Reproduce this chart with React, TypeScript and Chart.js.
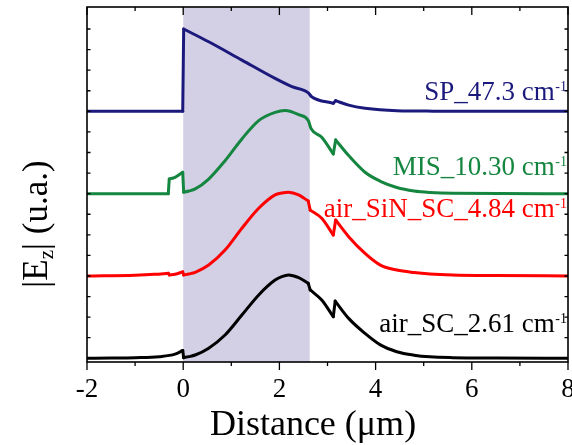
import { useEffect, useRef } from 'react';
import { Chart, registerables } from 'chart.js';

Chart.register(...registerables);

// ---- axis data ----
const xMin = -2;
const xMax = 8;
const yMin = -0.18;
const yMax = 17.07;
const xTickValues = [-2, -1, 0, 1, 2, 3, 4, 5, 6, 7, 8];
const xTickLabels = ['-2', '', '0', '', '2', '', '4', '', '6', '', '8'];
const yTickValues = [0, 1, 2, 3, 4, 5, 6, 7, 8, 9, 10, 11, 12, 13, 14, 15, 16];
const shadeStart = 0;
const shadeEnd = 2.63;
const xTitle = 'Distance (μm)';

// ---- series data (values relative to each curve's baseline) ----
const seriesNames = ['air_SC_2.61 cm', 'air_SiN_SC_4.84 cm', 'MIS_10.30 cm', 'SP_47.3 cm'];
const seriesBaselines = [0, 4, 8, 12];

const airScX = [-2, -1.5, -1, -0.5, -0.17, -0.01, 0.01, 0.12, 0.25, 0.53, 0.87, 1.22, 1.57, 1.91, 2.05, 2.19, 2.4, 2.6, 2.64, 2.88, 3.12, 3.16, 3.44, 3.78, 4.1, 4.44, 4.8, 5.13, 5.6, 6.5, 8];
const airScY = [0, 0.01, 0.03, 0.08, 0.2, 0.38, 0.03, 0.08, 0.16, 0.49, 1.13, 2.1, 3.08, 3.8, 3.97, 4.05, 3.92, 3.64, 3.32, 2.83, 2.02, 2.78, 1.94, 1.21, 0.65, 0.32, 0.15, 0.07, 0.03, 0.01, 0];

const airSinX = [-2, -1, -0.6, -0.31, -0.29, -0.17, -0.01, 0.01, 0.12, 0.25, 0.53, 0.87, 1.22, 1.57, 1.91, 2.05, 2.19, 2.4, 2.6, 2.64, 2.88, 3.12, 3.17, 3.44, 3.78, 4.1, 4.44, 4.8, 5.13, 5.6, 6.5, 8];
const airSinY = [0, 0.04, 0.08, 0.13, 0.05, 0.08, 0.2, 0.05, 0.1, 0.18, 0.53, 1.26, 2.32, 3.29, 3.94, 4.03, 4.07, 3.94, 3.64, 3.2, 2.8, 1.99, 2.72, 1.91, 1.1, 0.53, 0.29, 0.17, 0.1, 0.05, 0.02, 0];

const misX = [-2, -0.31, -0.29, -0.17, -0.01, 0.01, 0.12, 0.25, 0.53, 0.87, 1.22, 1.57, 1.91, 2.12, 2.4, 2.6, 2.66, 2.88, 3.12, 3.17, 3.44, 3.78, 4.1, 4.44, 4.8, 5.13, 5.6, 8];
const misY = [0, 0, 0.71, 0.79, 1.04, 0.07, 0.13, 0.23, 0.71, 1.6, 2.66, 3.55, 3.95, 4.04, 3.84, 3.55, 3.15, 2.74, 1.93, 2.61, 1.85, 1.04, 0.6, 0.3, 0.13, 0.06, 0.02, 0];

const spX = [-2, -0.01, 0.01, 0.53, 1.22, 1.91, 2.26, 2.6, 2.67, 3.12, 3.17, 3.44, 3.78, 4.44, 5.2, 8];
const spY = [0, 0, 4.0, 3.38, 2.49, 1.6, 1.2, 0.9, 0.71, 0.39, 0.52, 0.3, 0.15, 0.03, 0.01, 0];

const seriesX = [airScX, airSinX, misX, spX];
const seriesY = [airScY, airSinY, misY, spY];

// ---- styles ----
const colors = ['#000000', '#ff0000', '#15863f', '#1b1a7c'];
const shadeColor = '#d3d0e6';
const serif = "'Liberation Serif', 'Times New Roman', serif";
const jumpGap = 0.06;
const labelPos = [
  { x: 567, y: 332 },
  { x: 567, y: 217 },
  { x: 567, y: 175 },
  { x: 567, y: 100 },
];

const decorPlugin = {
  id: 'decor',
  beforeDatasetsDraw(chart: any) {
    const { ctx, chartArea, scales } = chart;
    const x0 = scales.x.getPixelForValue(shadeStart);
    const x1 = scales.x.getPixelForValue(shadeEnd);
    ctx.save();
    ctx.fillStyle = shadeColor;
    ctx.fillRect(x0, chartArea.top, x1 - x0, chartArea.bottom - chartArea.top);
    ctx.restore();
  },
  afterDraw(chart: any) {
    const { ctx, chartArea, scales } = chart;
    const { left, right, top, bottom } = chartArea;
    ctx.save();
    ctx.strokeStyle = '#000';
    ctx.lineWidth = 1.6;
    ctx.strokeRect(left, top, right - left, bottom - top);
    ctx.lineWidth = 1.3;
    ctx.beginPath();
    xTickValues.forEach((v, i) => {
      const px = scales.x.getPixelForValue(v);
      const len = xTickLabels[i] ? 8 : 4;
      ctx.moveTo(px, bottom);
      ctx.lineTo(px, bottom + len);
      ctx.moveTo(px, top);
      ctx.lineTo(px, top + len);
    });
    yTickValues.forEach((v) => {
      const py = scales.y.getPixelForValue(v);
      ctx.moveTo(left, py);
      ctx.lineTo(left + 3.5, py);
      ctx.moveTo(right, py);
      ctx.lineTo(right - 3.5, py);
    });
    ctx.stroke();

    // x tick labels
    ctx.fillStyle = '#000';
    ctx.font = `27px ${serif}`;
    ctx.textAlign = 'center';
    ctx.textBaseline = 'alphabetic';
    xTickValues.forEach((v, i) => {
      if (!xTickLabels[i]) return;
      const px = scales.x.getPixelForValue(v);
      ctx.fillText(xTickLabels[i], px, 397);
    });

    // x title
    ctx.font = `36px ${serif}`;
    ctx.fillText(xTitle, 313, 435);

    // y title |Ez| (u.a.)
    ctx.save();
    ctx.translate(47, 224);
    ctx.rotate(-Math.PI / 2);
    ctx.textAlign = 'left';
    const big = `35px ${serif}`;
    const small = `21px ${serif}`;
    const partA = '|E';
    const partB = 'z';
    const partC = '| (u.a.)';
    ctx.font = big;
    const wA = ctx.measureText(partA).width;
    const wC = ctx.measureText(partC).width;
    ctx.font = small;
    const wB = ctx.measureText(partB).width;
    let cx = -(wA + wB + wC) / 2;
    ctx.font = big;
    ctx.fillText(partA, cx, 0);
    cx += wA;
    ctx.font = small;
    ctx.fillText(partB, cx, 6);
    cx += wB;
    ctx.font = big;
    ctx.fillText(partC, cx, 0);
    ctx.restore();

    // series labels with superscript
    seriesNames.forEach((name, i) => {
      const pos = labelPos[i];
      ctx.fillStyle = colors[i];
      ctx.font = `14px ${serif}`;
      ctx.textAlign = 'left';
      const sup = '-1';
      const wSup = ctx.measureText(sup).width;
      const supX = pos.x - wSup;
      ctx.fillText(sup, supX, pos.y - 9);
      ctx.font = `27px ${serif}`;
      ctx.textAlign = 'right';
      ctx.fillText(name, supX - 0.5, pos.y);
    });
    ctx.restore();
  },
};

// split a series into smooth pieces and straight jump pieces
function buildPieces(xs: number[], ys: number[], base: number) {
  const pts = xs.map((x, j) => ({ x, y: ys[j] + base }));
  const smooth: { x: number; y: number }[][] = [];
  const jumps: { x: number; y: number }[][] = [];
  let cur: { x: number; y: number }[] = [pts[0]];
  for (let j = 1; j < pts.length; j++) {
    if (pts[j].x - pts[j - 1].x < jumpGap) {
      smooth.push(cur);
      jumps.push([pts[j - 1], pts[j]]);
      cur = [pts[j]];
    } else {
      cur.push(pts[j]);
    }
  }
  smooth.push(cur);
  return { smooth, jumps };
}

export default function App() {
  const canvasRef = useRef<HTMLCanvasElement | null>(null);

  useEffect(() => {
    const canvas = canvasRef.current;
    if (!canvas) return;
    const datasets: any[] = [];
    seriesX.forEach((xs, i) => {
      const { smooth, jumps } = buildPieces(xs, seriesY[i], seriesBaselines[i]);
      const common = {
        label: seriesNames[i],
        borderColor: colors[i],
        backgroundColor: colors[i],
        borderWidth: 3,
        borderJoinStyle: 'round',
        borderCapStyle: 'round',
        pointRadius: 0,
        showLine: true,
        fill: false,
      };
      smooth.forEach((piece) => {
        datasets.push({ ...common, data: piece, cubicInterpolationMode: 'monotone' });
      });
      jumps.forEach((piece) => {
        datasets.push({ ...common, data: piece, tension: 0 });
      });
    });
    const chart = new Chart(canvas, {
      type: 'scatter',
      data: { datasets },
      options: {
        animation: false,
        responsive: false,
        devicePixelRatio: 1,
        layout: { padding: { left: 87, right: 4, top: 7, bottom: 83 } },
        plugins: { legend: { display: false }, tooltip: { enabled: false } },
        scales: {
          x: { type: 'linear', min: xMin, max: xMax, display: false },
          y: { type: 'linear', min: yMin, max: yMax, display: false },
        },
      },
      plugins: [decorPlugin],
    });
    return () => chart.destroy();
  }, []);

  return (
    <div style={{ position: 'absolute', left: 0, top: 0, width: 572, height: 445, background: '#fff' }}>
      <canvas ref={canvasRef} width={572} height={445} style={{ width: 572, height: 445, display: 'block' }} />
    </div>
  );
}
